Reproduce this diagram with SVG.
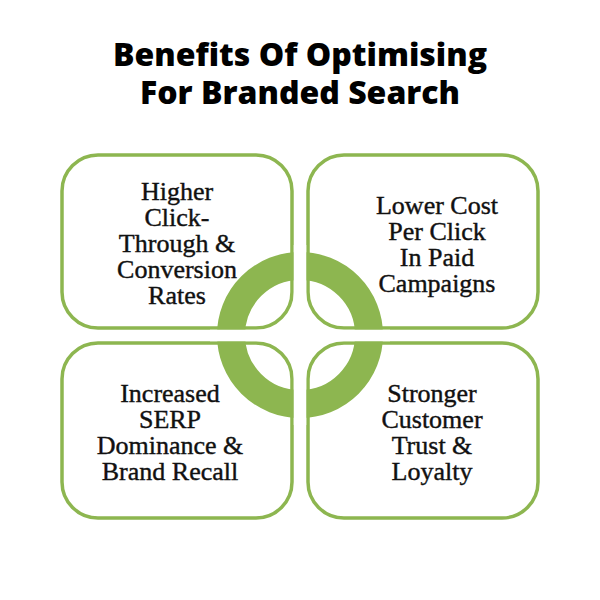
<svg xmlns="http://www.w3.org/2000/svg" width="600" height="600" viewBox="0 0 600 600">
<style>
.box{fill:#fff;stroke:#8db650;stroke-width:3.5}
.t{font-family:"Liberation Serif",serif;font-size:26px;fill:#111;text-anchor:middle;stroke:#111;stroke-width:0.4}
.h{font-family:"Open Sans","DejaVu Sans",sans-serif;font-weight:800;font-size:32px;fill:#000;text-anchor:middle}
</style>
<rect width="600" height="600" fill="#fff"/>
<g id="title"><text class="h" x="300" y="66">Benefits Of Optimising</text><text class="h" x="300" y="104">For Branded Search</text></g>
<g id="box1"><rect class="box" x="62" y="155" width="230" height="173" rx="36"/>
<text class="t" x="177" y="200">Higher</text><text class="t" x="177" y="226">Click-</text><text class="t" x="177" y="252">Through &amp;</text><text class="t" x="177" y="278">Conversion</text><text class="t" x="177" y="304">Rates</text></g>
<g id="box2"><rect class="box" x="308" y="155" width="230" height="173" rx="36"/>
<text class="t" x="437" y="214">Lower Cost</text><text class="t" x="437" y="240">Per Click</text><text class="t" x="437" y="266">In Paid</text><text class="t" x="437" y="292">Campaigns</text></g>
<g id="box3"><rect class="box" x="62" y="343" width="230" height="175" rx="36"/>
<text class="t" x="170" y="402">Increased</text><text class="t" x="170" y="428">SERP</text><text class="t" x="170" y="454">Dominance &amp;</text><text class="t" x="170" y="480">Brand Recall</text></g>
<g id="box4"><rect class="box" x="308" y="343" width="230" height="175" rx="36"/>
<text class="t" x="432" y="402">Stronger</text><text class="t" x="432" y="428">Customer</text><text class="t" x="432" y="454">Trust &amp;</text><text class="t" x="432" y="480">Loyalty</text></g>
<g id="ring">
<circle cx="300" cy="335" r="69" fill="none" stroke="#8db650" stroke-width="28"/>
<rect x="293.75" y="245" width="12.5" height="180" fill="#fff"/>
<rect x="210" y="329.75" width="180" height="11.5" fill="#fff"/>
</g>
</svg>
